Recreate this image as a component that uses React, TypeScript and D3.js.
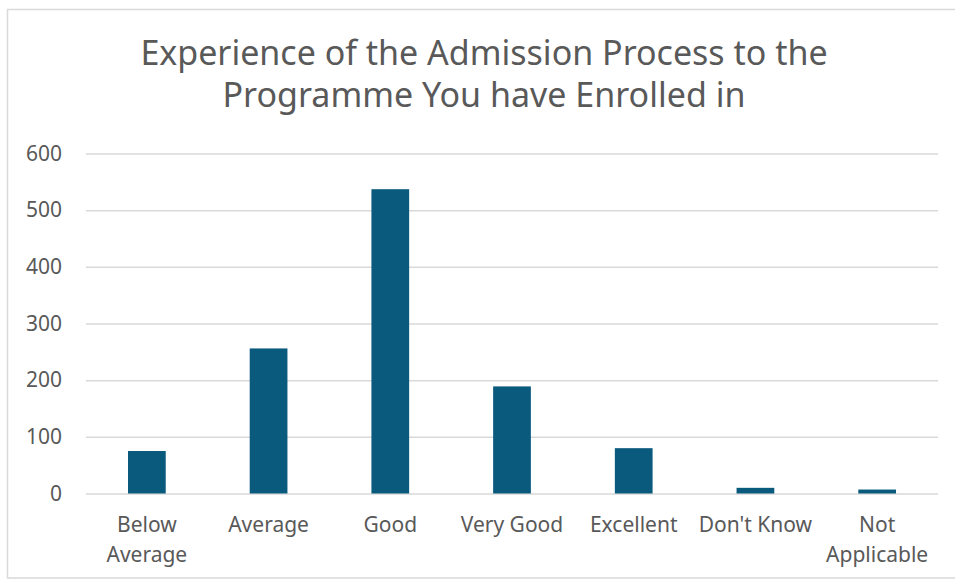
import React, { useEffect, useRef } from 'react';
import * as d3 from 'd3';

const titleLines = ['Experience of the Admission Process to the', 'Programme You have Enrolled in'];
const categories = ['Below Average', 'Average', 'Good', 'Very Good', 'Excellent', "Don't Know", 'Not Applicable'];
const categoryLines = [['Below', 'Average'], ['Average'], ['Good'], ['Very Good'], ['Excellent'], ["Don't Know"], ['Not', 'Applicable']];
const values = [75, 256, 537, 189, 80, 10, 7];
const yTicks = [0, 100, 200, 300, 400, 500, 600];

const W = 955;
const H = 581;
const FONT = "'Noto Sans', 'Open Sans', sans-serif";
const TEXT = '#595959';
const BAR = '#0a5a7d';
const GRID = '#d9d9d9';

const App = () => {
  const svgRef = useRef<SVGSVGElement | null>(null);

  useEffect(() => {
    const svg = d3.select(svgRef.current);
    svg.selectAll('*').remove();

    const plot = { left: 86, right: 938, top: 153.5, bottom: 493.5 };

    // chart area frame
    svg.append('rect')
      .attr('x', 7.5)
      .attr('y', 9.5)
      .attr('width', W)
      .attr('height', 568.5)
      .attr('fill', '#fff')
      .attr('stroke', GRID)
      .attr('stroke-width', 1.5);

    const title = svg.append('text')
      .attr('text-anchor', 'middle')
      .attr('fill', TEXT)
      .style('font-family', FONT)
      .style('font-size', '34px');
    titleLines.forEach((line, i) => {
      title.append('tspan').attr('x', 484).attr('y', 65 + i * 42).text(line);
    });

    const x = d3.scaleBand<string>()
      .domain(categories)
      .range([plot.left, plot.right])
      .padding(0);

    const y = d3.scaleLinear()
      .domain([0, 600])
      .range([plot.bottom, plot.top]);

    const yAxis = d3.axisLeft(y)
      .tickValues(yTicks)
      .tickSize(-(plot.right - plot.left))
      .tickPadding(24);

    const gy = svg.append('g')
      .attr('transform', `translate(${plot.left},0)`)
      .call(yAxis);
    gy.select('path.domain').remove();
    gy.selectAll('.tick line').attr('stroke', GRID).attr('stroke-width', 1.5);
    gy.selectAll('.tick text')
      .attr('fill', TEXT)
      .style('font-family', FONT)
      .style('font-size', '21px');

    const barW = x.bandwidth() * 0.31;
    svg.append('g')
      .selectAll('rect')
      .data(values)
      .join('rect')
      .attr('x', (d, i) => (x(categories[i]) ?? 0) + x.bandwidth() / 2 - barW / 2)
      .attr('y', d => y(d))
      .attr('width', barW)
      .attr('height', d => y(0) - y(d))
      .attr('fill', BAR);

    const labels = svg.append('g')
      .attr('fill', TEXT)
      .style('font-family', FONT)
      .style('font-size', '21px')
      .attr('text-anchor', 'middle');
    categories.forEach((c, i) => {
      const t = labels.append('text');
      categoryLines[i].forEach((line, j) => {
        t.append('tspan')
          .attr('x', (x(c) ?? 0) + x.bandwidth() / 2)
          .attr('y', 532 + j * 29.5)
          .text(line);
      });
    });
  }, []);

  return (
    <svg
      ref={svgRef}
      width={W}
      height={H}
      style={{ position: 'absolute', left: 0, top: 0, background: '#fff' }}
    />
  );
};

export default App;
